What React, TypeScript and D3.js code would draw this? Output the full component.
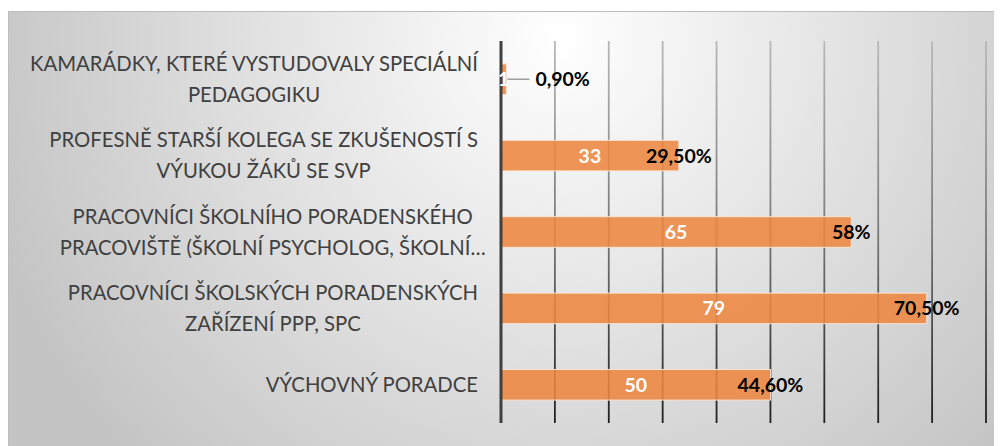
import React, { useEffect, useRef } from "react";
import * as d3 from "d3";

const categoryLines: string[][] = [
  ["KAMARÁDKY, KTERÉ VYSTUDOVALY SPECIÁLNÍ", "PEDAGOGIKU"],
  ["PROFESNĚ STARŠÍ KOLEGA SE ZKUŠENOSTÍ S", "VÝUKOU ŽÁKŮ SE SVP"],
  ["PRACOVNÍCI ŠKOLNÍHO PORADENSKÉHO", "PRACOVIŠTĚ (ŠKOLNÍ PSYCHOLOG, ŠKOLNÍ…"],
  ["PRACOVNÍCI ŠKOLSKÝCH PORADENSKÝCH", "ZAŘÍZENÍ PPP, SPC"],
  ["VÝCHOVNÝ PORADCE"],
];
const counts = [1, 33, 65, 79, 50];
const percentLabels = ["0,90%", "29,50%", "58%", "70,50%", "44,60%"];
const xTicks = [0, 10, 20, 30, 40, 50, 60, 70, 80, 90];

const W = 994;
const H = 438;
const FONT = "Lato, 'Open Sans', sans-serif";

export default function App() {
  const ref = useRef<SVGSVGElement>(null);

  useEffect(() => {
    const svg = d3.select(ref.current);
    svg.selectAll("*").remove();

    const defs = svg.append("defs");
    const rg = defs
      .append("radialGradient")
      .attr("id", "bg")
      .attr("gradientUnits", "userSpaceOnUse")
      .attr("cx", 552)
      .attr("cy", 32)
      .attr("r", 600);
    rg.append("stop").attr("offset", 0).attr("stop-color", "#ffffff");
    rg.append("stop").attr("offset", 1).attr("stop-color", "#c4c4c4");

    const lg = defs
      .append("linearGradient")
      .attr("id", "grid")
      .attr("gradientUnits", "userSpaceOnUse")
      .attr("x1", 0)
      .attr("x2", 0)
      .attr("y1", 33)
      .attr("y2", 415);
    lg.append("stop").attr("offset", 0).attr("stop-color", "#b8b8b8");
    lg.append("stop").attr("offset", 0.5).attr("stop-color", "#7a7a7a");
    lg.append("stop").attr("offset", 1).attr("stop-color", "#1e1e1e");

    svg
      .append("rect")
      .attr("x", 0.5)
      .attr("y", 3.5)
      .attr("width", W)
      .attr("height", H)
      .attr("fill", "url(#bg)")
      .attr("stroke", "#bdbdbd")
      .attr("stroke-width", 1);

    const x = d3.scaleLinear().domain([0, 90]).range([493, 978]);
    const y = d3
      .scaleBand<number>()
      .domain(d3.range(counts.length))
      .range([33, 415])
      .paddingInner(0.6)
      .paddingOuter(0.3);

    // gridlines
    svg
      .append("g")
      .selectAll("line")
      .data(xTicks.filter((t) => t > 0))
      .join("line")
      .attr("x1", (d) => x(d))
      .attr("x2", (d) => x(d))
      .attr("y1", 33)
      .attr("y2", 415)
      .attr("stroke", "url(#grid)")
      .attr("stroke-width", 1.8);

    // bars
    svg
      .append("g")
      .selectAll("rect")
      .data(counts)
      .join("rect")
      .attr("x", x(0))
      .attr("y", (_, i) => y(i)!)
      .attr("width", (d) => x(d) - x(0))
      .attr("height", y.bandwidth())
      .attr("fill", "#EC8640")
      .attr("fill-opacity", 0.88)
      .attr("stroke", "#f6e4d6")
      .attr("stroke-width", 1);

    // axis line
    svg
      .append("line")
      .attr("x1", x(0))
      .attr("x2", x(0))
      .attr("y1", 33)
      .attr("y2", 415)
      .attr("stroke", "#404040")
      .attr("stroke-width", 3);

    // count labels
    svg
      .append("g")
      .selectAll("text")
      .data(counts)
      .join("text")
      .attr("x", (d) => (x(0) + x(d)) / 2)
      .attr("y", (_, i) => y(i)! + y.bandwidth() / 2)
      .attr("dy", "0.36em")
      .attr("text-anchor", "middle")
      .attr("font-family", FONT)
      .attr("font-weight", "bold")
      .attr("font-size", 19.5)
      .attr("fill", "#ffffff")
      .text((d) => String(d));

    // percent labels
    const pg = svg.append("g");
    counts.forEach((d, i) => {
      const cy = y(i)! + y.bandwidth() / 2;
      const barW = x(d) - x(0);
      if (barW < 30) {
        pg.append("line")
          .attr("x1", x(d) + 1)
          .attr("x2", x(d) + 23)
          .attr("y1", cy)
          .attr("y2", cy)
          .attr("stroke", "#888")
          .attr("stroke-width", 1.2);
        pg.append("text")
          .attr("x", x(d) + 29)
          .attr("y", cy)
          .attr("dy", "0.36em")
          .attr("text-anchor", "start")
          .attr("font-family", FONT)
          .attr("font-weight", "bold")
          .attr("font-size", 19.5)
          .attr("fill", "#000")
          .text(percentLabels[i]);
      } else {
        pg.append("text")
          .attr("x", x(d))
          .attr("y", cy)
          .attr("dy", "0.36em")
          .attr("text-anchor", "middle")
          .attr("font-family", FONT)
          .attr("font-weight", "bold")
          .attr("font-size", 19.5)
          .attr("fill", "#000")
          .text(percentLabels[i]);
      }
    });

    // category labels
    const RIGHT = 470;
    const LH = 31;
    const cg = svg.append("g");
    categoryLines.forEach((lines, i) => {
      const cy = y(i)! + y.bandwidth() / 2;
      const g = cg.append("g");
      const texts = lines.map((ln, j) =>
        g
          .append("text")
          .attr("y", cy + (j - (lines.length - 1) / 2) * LH)
          .attr("dy", "0.36em")
          .attr("text-anchor", "middle")
          .attr("font-family", FONT)
          .attr("font-size", 20.3)
          .attr("fill", "#404040")
          .text(ln)
      );
      const widths = texts.map((t, j) => {
        const node = t.node() as SVGTextElement;
        let w = node.getComputedTextLength();
        if (lines[j].endsWith("…")) {
          w -= node.getSubStringLength(lines[j].length - 1, 1);
        }
        return w;
      });
      const maxW = Math.max(...widths);
      texts.forEach((t) => t.attr("x", RIGHT - maxW / 2));
    });
  }, []);

  return (
    <svg
      ref={ref}
      width={W}
      height={H}
      style={{ display: "block", overflow: "visible" }}
    />
  );
}
